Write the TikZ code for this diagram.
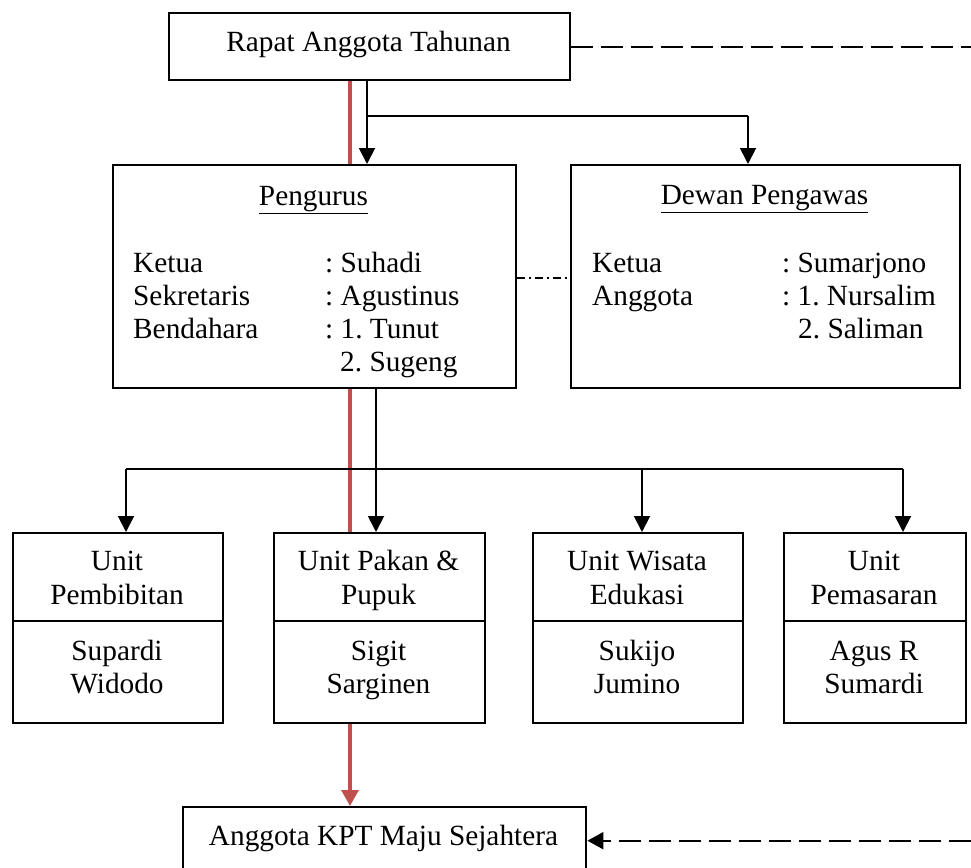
\documentclass[tikz,border=0pt]{standalone}
\usepackage{fontspec}
\setmainfont{Liberation Serif}
\usetikzlibrary{arrows.meta}
\definecolor{redline}{RGB}{192,80,77}
\frenchspacing
\begin{document}
\begin{tikzpicture}[x=1pt,y=-1pt,
  box/.style={draw, line width=2.4pt, fill=white, inner sep=0pt, anchor=north west},
  txt/.style={inner sep=0pt, font=\fontsize{29.3}{33}\selectfont\frenchspacing},
  conn/.style={line width=1.9pt},
  arr/.style={conn, -{Triangle[width=16pt,length=16pt]}},
  redconn/.style={line width=3.2pt, draw=redline},
  redarr/.style={redconn, -{Triangle[width=17pt,length=16pt]}},
  dashline/.style={line width=2.2pt, dash pattern=on 22pt off 8pt},
  dashdotline/.style={line width=1.6pt, dash pattern=on 8pt off 4pt on 2pt off 4pt}
]
\useasboundingbox (0,0) rectangle (971,867);
\clip (0,0) rectangle (971,867);

% boxes
\node[box, minimum width=401pt, minimum height=67pt] (rat) at (168,12) {};
\node[box, minimum width=403pt, minimum height=223pt] (peng) at (112,164) {};
\node[box, minimum width=389pt, minimum height=223pt] (dew) at (570,164) {};
\node[box, minimum width=210pt, minimum height=190pt] (u1) at (12,532) {};
\node[box, minimum width=211pt, minimum height=190pt] (u2) at (273,532) {};
\node[box, minimum width=210pt, minimum height=190pt] (u3) at (532,532) {};
\node[box, minimum width=182pt, minimum height=190pt] (u4) at (783,532) {};
\node[box, minimum width=403pt, minimum height=67pt] (ang) at (182,806) {};

% dividers in unit boxes
\coordinate (dv) at (0,621);
\foreach \u in {u1,u2,u3,u4}{
  \draw[line width=1.9pt] (\u.west |- dv) -- (\u.east |- dv);
}

% texts
\node[txt, anchor=base] (ratT) at (368.5,52) {Rapat Anggota Tahunan};
\node[txt, anchor=base] (angT) at (383.5,845) {Anggota KPT Maju Sejahtera};

\node[txt, anchor=base] (pengH) at (313.5,205) {\underline{Pengurus}};
\node[txt, anchor=base west] (p1a) at (133,272) {Ketua};
\node[txt, anchor=base west] (p2a) at (133,305) {Sekretaris};
\node[txt, anchor=base west] (p3a) at (133,338) {Bendahara};
\node[txt, anchor=base west] (p1b) at (325,272) {: Suhadi};
\node[txt, anchor=base west] (p2b) at (325,305) {: Agustinus};
\node[txt, anchor=base west] (p3b) at (325,338) {: 1. Tunut};
\node[txt, anchor=base west] (p4b) at (340,371) {2. Sugeng};

\node[txt, anchor=base] (dewH) at (764.5,204) {\underline{Dewan Pengawas}};
\node[txt, anchor=base west] (d1a) at (592,272) {Ketua};
\node[txt, anchor=base west] (d2a) at (592,305) {Anggota};
\node[txt, anchor=base west] (d1b) at (782,272) {: Sumarjono};
\node[txt, anchor=base west] (d2b) at (782,305) {: 1. Nursalim};
\node[txt, anchor=base west] (d3b) at (798,338) {2. Saliman};

\node[txt, anchor=base] (u1a) at (117,570) {Unit};
\node[txt, anchor=base] (u1b) at (117,604) {Pembibitan};
\node[txt, anchor=base] (u1c) at (117,660) {Supardi};
\node[txt, anchor=base] (u1d) at (117,693) {Widodo};

\node[txt, anchor=base] (u2a) at (378.5,570) {Unit Pakan \&};
\node[txt, anchor=base] (u2b) at (378.5,604) {Pupuk};
\node[txt, anchor=base] (u2c) at (378.5,660) {Sigit};
\node[txt, anchor=base] (u2d) at (378.5,693) {Sarginen};

\node[txt, anchor=base] (u3a) at (637,570) {Unit Wisata};
\node[txt, anchor=base] (u3b) at (637,604) {Edukasi};
\node[txt, anchor=base] (u3c) at (637,660) {Sukijo};
\node[txt, anchor=base] (u3d) at (637,693) {Jumino};

\node[txt, anchor=base] (u4a) at (874,570) {Unit};
\node[txt, anchor=base] (u4b) at (874,604) {Pemasaran};
\node[txt, anchor=base] (u4c) at (874,660) {Agus R};
\node[txt, anchor=base] (u4d) at (874,693) {Sumardi};

% coordinates for connectors
\coordinate (rx) at (350,0);
\coordinate (bx) at (367,116);
\coordinate (dx) at (748,0);
\coordinate (j2) at (376,469);
\coordinate (h1) at (126,469);
\coordinate (h3) at (642,469);
\coordinate (h4) at (903,469);
\coordinate (dd) at (0,278);
\coordinate (rEnd) at (971,0);

% red line
\draw[redconn] (rat.south -| rx) -- (peng.north -| rx);
\draw[redconn] (peng.south -| rx) -- (u2.north -| rx);
\draw[redarr] (u2.south -| rx) -- (ang.north -| rx);

% black connectors
\draw[arr] (rat.south -| bx) -- (peng.north -| bx);
\draw[conn] (bx) -- (bx -| dx);
\draw[arr] (bx -| dx) -- (dew.north -| dx);

\draw[conn] (peng.south -| j2) -- (j2);
\draw[arr] (j2) -- (u2.north -| j2);
\draw[conn] (h1) -- (h4);
\draw[arr] (h1) -- (u1.north -| h1);
\draw[arr] (h3) -- (u3.north -| h3);
\draw[arr] (h4) -- (u4.north -| h4);

% dash-dot between Pengurus and Dewan
\draw[dashdotline] (peng.east |- dd) -- (dew.west |- dd);

% dashed lines
\draw[dashline] (rat.east) -- (rat.east -| rEnd);
\draw[dashline, -{Triangle[width=17pt,length=16pt]}] (ang.east -| rEnd) -- (ang.east);
\end{tikzpicture}
\end{document}
